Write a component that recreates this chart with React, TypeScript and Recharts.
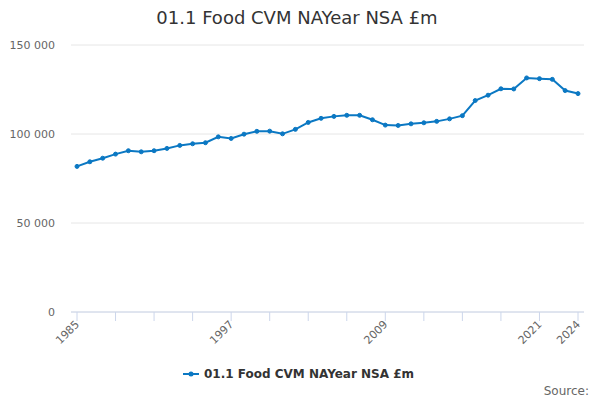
import { LineChart, Line, XAxis, YAxis, CartesianGrid } from "recharts";

const years = [
  1985, 1986, 1987, 1988, 1989, 1990, 1991, 1992, 1993, 1994,
  1995, 1996, 1997, 1998, 1999, 2000, 2001, 2002, 2003, 2004,
  2005, 2006, 2007, 2008, 2009, 2010, 2011, 2012, 2013, 2014,
  2015, 2016, 2017, 2018, 2019, 2020, 2021, 2022, 2023, 2024,
];

const food = [
  81800, 84400, 86400, 88700, 90600, 90000, 90600, 91900, 93600, 94500,
  95100, 98400, 97500, 99900, 101500, 101600, 100100, 102600, 106500, 108800,
  109900, 110500, 110500, 108000, 105000, 104800, 105700, 106300, 107100, 108500,
  110300, 118800, 121800, 125400, 125300, 131500, 131100, 130700, 124400, 122700,
];

const xTicks = [1985, 1988, 1991, 1994, 1997, 2000, 2003, 2006, 2009, 2012, 2015, 2018, 2021, 2024];
const xLabels = [1985, 1997, 2009, 2021, 2024];
const yTicks = [0, 50000, 100000, 150000];

const seriesName = "01.1 Food CVM NAYear NSA £m";
const title = "01.1 Food CVM NAYear NSA £m";
const blue = "#0b78c3";

const data = years.map((year, i) => ({ year, value: food[i] }));

const fmt = (v: number) => String(v).replace(/\B(?=(\d{3})+(?!\d))/g, " ");

function YearTick(props: any) {
  const { x, y, payload } = props;
  if (!xLabels.includes(payload.value)) return null;
  const tx = x + 3;
  const ty = y + 2;
  return (
    <text
      x={tx}
      y={ty}
      textAnchor="end"
      fontSize={11}
      fill="#666666"
      transform={`rotate(-45 ${tx} ${ty})`}
    >
      {payload.value}
    </text>
  );
}

export default function App() {
  return (
    <div
      style={{
        position: "absolute",
        left: 0,
        top: 0,
        width: 600,
        height: 400,
        background: "#fff",
        fontFamily: "'DejaVu Sans', sans-serif",
      }}
    >
      <LineChart
        width={600}
        height={400}
        data={data}
        margin={{ top: 45, right: 16, left: 11, bottom: 48 }}
      >
        <CartesianGrid vertical={false} stroke="#e6e6e6" />
        <XAxis
          dataKey="year"
          type="number"
          domain={[1985, 2024]}
          ticks={xTicks}
          interval={0}
          padding={{ left: 6, right: 6 }}
          height={40}
          tickSize={9}
          tickMargin={2}
          axisLine={{ stroke: "#ccd6eb" }}
          tickLine={{ stroke: "#ccd6eb" }}
          tick={<YearTick />}
        />
        <YAxis
          domain={[0, 150000]}
          ticks={yTicks}
          width={60}
          axisLine={false}
          tickLine={false}
          tickMargin={10}
          tickFormatter={fmt}
          tick={{ fontSize: 11, fill: "#666666" }}
        />
        <Line
          type="linear"
          dataKey="value"
          name={seriesName}
          stroke={blue}
          strokeWidth={2}
          dot={{ r: 2, fill: blue, stroke: blue, strokeWidth: 1 }}
          isAnimationActive={false}
        />
      </LineChart>
      <svg
        width={600}
        height={400}
        style={{ position: "absolute", left: 0, top: 0, pointerEvents: "none" }}
      >
        <text x={297} y={24} textAnchor="middle" fontSize={18} fill="#333333">
          {title}
        </text>
        <line x1={183} y1={374} x2={199} y2={374} stroke={blue} strokeWidth={2} />
        <circle cx={191} cy={374} r={2.5} fill={blue} />
        <text x={204} y={378} fontSize={12} fontWeight="bold" fill="#333333">
          {seriesName}
        </text>
        <text x={589} y={395} textAnchor="end" fontSize={12} fill="#666666">
          Source:
        </text>
      </svg>
    </div>
  );
}
